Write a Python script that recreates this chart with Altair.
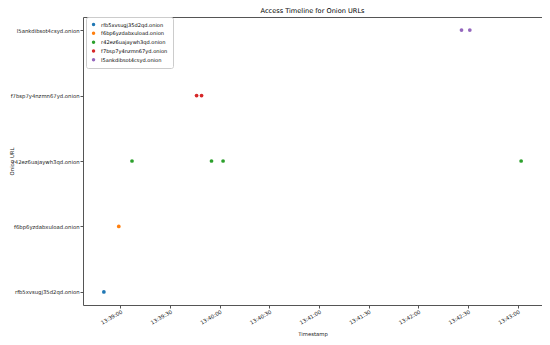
import altair as alt
import pandas as pd

# Data
urls = [
    "rfb5xvsugj35d2qd.onion",
    "f6bp6yzdabxuload.onion",
    "r42ez6uajaywh3qd.onion",
    "r42ez6uajaywh3qd.onion",
    "r42ez6uajaywh3qd.onion",
    "r42ez6uajaywh3qd.onion",
    "f7bsp7y4nzmn67yd.onion",
    "f7bsp7y4nzmn67yd.onion",
    "l5ankdibsot4csyd.onion",
    "l5ankdibsot4csyd.onion",
]
times = [
    "2024-01-01T13:38:50Z",
    "2024-01-01T13:38:59Z",
    "2024-01-01T13:39:07Z",
    "2024-01-01T13:39:55Z",
    "2024-01-01T13:40:02Z",
    "2024-01-01T13:43:02Z",
    "2024-01-01T13:39:46Z",
    "2024-01-01T13:39:49Z",
    "2024-01-01T13:42:26Z",
    "2024-01-01T13:42:31Z",
]
legend_order = [
    "rfb5xvsugj35d2qd.onion",
    "f6bp6yzdabxuload.onion",
    "r42ez6uajaywh3qd.onion",
    "f7bsp7y4nzmn67yd.onion",
    "l5ankdibsot4csyd.onion",
]
colors = ["#1f77b4", "#ff7f0e", "#2ca02c", "#d62728", "#9467bd"]
tick_times = [(39, 0), (39, 30), (40, 0), (40, 30), (41, 0), (41, 30), (42, 0), (42, 30), (43, 0)]

df = pd.DataFrame({"url": urls, "time": times})

def dt(m, s, ms=0):
    return alt.DateTime(year=2024, month=1, date=1, hours=13, minutes=m,
                        seconds=s, milliseconds=ms, utc=True)

FONT = "DejaVu Sans"
FS = 5.3

chart = (
    alt.Chart(df)
    .mark_circle(size=14, opacity=1)
    .encode(
        x=alt.X(
            "time:T",
            title="Timestamp",
            scale=alt.Scale(type="utc", domain=[dt(38, 37, 400), dt(43, 14, 600)]),
            axis=alt.Axis(
                values=[dt(m, s) for m, s in tick_times],
                labelExpr="utcFormat(datum.value, '%H:%M:%S')",
                labelAngle=330,
                labelAlign="right",
                labelBaseline="top",
                labelFontSize=FS,
                labelPadding=1,
                titleFontSize=FS,
                titleFontWeight="normal",
                titleY=28,
                titleBaseline="middle",
                grid=False,
                tickSize=3,
                domain=False,
            ),
        ),
        y=alt.Y(
            "url:N",
            title="Onion URL",
            sort=legend_order[::-1],
            scale=alt.Scale(type="point", padding=0.2),
            axis=alt.Axis(
                labelFontSize=FS,
                labelPadding=1,
                titleFontSize=FS,
                titleFontWeight="normal",
                titleX=-72,
                titleBaseline="middle",
                grid=False,
                tickSize=3,
                domain=False,
                labelLimit=200,
            ),
        ),
        color=alt.Color(
            "url:N",
            scale=alt.Scale(domain=legend_order, range=colors),
            legend=alt.Legend(
                title=None,
                orient="none",
                legendX=3,
                legendY=0,
                labelFontSize=5.1,
                symbolSize=12,
                symbolType="circle",
                symbolOffset=0,
                labelOffset=5,
                rowPadding=2.8,
                padding=5,
                strokeColor="#cccccc",
                fillColor="white",
                cornerRadius=2,
                labelFont=FONT,
            ),
        ),
    )
    .properties(
        width=459,
        height=288,
        title=alt.TitleParams("Access Timeline for Onion URLs", fontSize=6.6,
                              fontWeight="normal", offset=1.5, font=FONT),
        autosize=alt.AutoSizeParams(type="none"),
        padding={"left": 75, "top": 9, "right": 0, "bottom": 32},
    )
    .configure_view(stroke="#555555", strokeWidth=1)
    .configure_axis(labelFont=FONT, titleFont=FONT, labelColor="#222222",
                    titleColor="#222222", tickColor="#555555")
)

chart.save("out.html", embed_options={"renderer": "svg", "actions": False})
